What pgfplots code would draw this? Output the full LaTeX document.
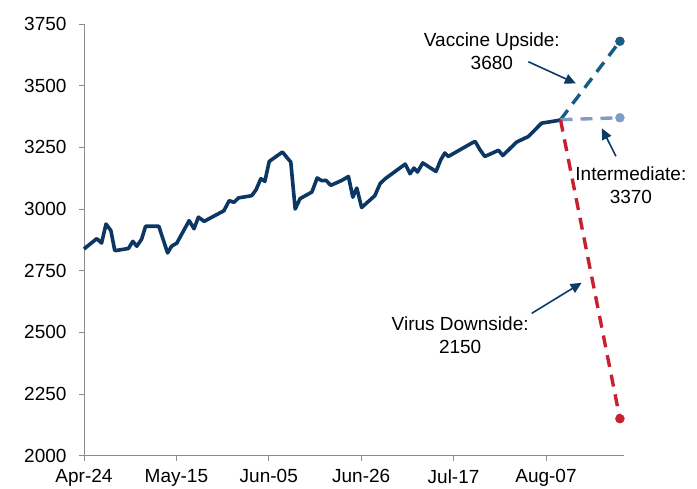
\documentclass[border=0pt]{standalone}
\usepackage{fontspec}
\setmainfont{Liberation Sans}
\usepackage{pgfplots}
\pgfplotsset{compat=1.18}
\usetikzlibrary{arrows.meta}
\definecolor{mainline}{RGB}{12,55,99}
\definecolor{vaccine}{RGB}{22,92,133}
\definecolor{interm}{RGB}{127,156,197}
\definecolor{virus}{RGB}{200,32,46}
\definecolor{arrowc}{RGB}{14,58,102}
\definecolor{axgray}{RGB}{140,140,140}
\begin{document}
\begin{tikzpicture}
\useasboundingbox (0,0) rectangle (697pt,488pt);
\begin{axis}[
  at={(84pt,32.3pt)}, anchor=origin,
  scale only axis, width=540.3pt, height=431.7pt,
  xmin=0, xmax=122.8, ymin=2000, ymax=3750,
  axis x line*=bottom, axis y line*=left,
  axis line style={axgray, line width=0.9pt, -},
  xtick={0,21,42,63,84,105},
  xticklabels={Apr-24,May-15,Jun-05,Jun-26,Jul-17,Aug-07},
  ytick={2000,2250,2500,2750,3000,3250,3500,3750},
  tick align=outside, major tick length=5pt,
  tick style={axgray, line width=0.9pt},
  ticklabel style={font=\fontsize{19}{22}\selectfont, text=black},
  yticklabel style={xshift=-9pt},
  xticklabel style={yshift=-5pt},
  /pgf/number format/assume math mode=true,
  /pgf/number format/1000 sep={},
  clip=false,
]
\addplot[mainline, line width=3.6pt, line join=round] coordinates {
(0,2838) (2.9,2880) (4.0,2862) (5.0,2939) (6.1,2913) (7.0,2831)
(10.1,2840) (11.1,2869) (12.0,2849) (13.1,2878) (14.0,2930) (17.0,2930)
(19.0,2822) (19.9,2849) (21.1,2862) (23.9,2953) (25.0,2920) (26.0,2967)
(27.3,2950) (31.8,2993) (33.0,3034) (34.1,3027) (35.1,3045) (38.1,3054)
(39.1,3078) (40.2,3123) (41.1,3112) (42.1,3193) (45.1,3231) (47.0,3190)
(48.0,3000) (49.1,3042) (51.8,3069) (53.0,3126) (54.0,3115) (55.0,3116)
(56.1,3096) (58.6,3116) (60.1,3132) (61.1,3048) (62.0,3085) (63.1,3006)
(66.1,3054) (67.3,3103) (68.4,3122) (73.0,3182) (74.1,3143) (75.0,3166)
(75.8,3150) (77.0,3187) (80.0,3152) (81.1,3200) (82.0,3227) (82.8,3213)
(88.1,3267) (88.9,3274) (90.0,3240) (91.1,3213) (94.2,3238) (95.2,3217)
(98.3,3271) (101.0,3294) (104.0,3348) (107.8,3359) (108.3,3362)
};
\addplot[vaccine, line width=3.4pt, dash pattern=on 12pt off 8pt] coordinates {(108.3,3362) (121.8,3680)};
\addplot[interm, line width=3.4pt, dash pattern=on 12pt off 8pt] coordinates {(108.3,3362) (121.8,3370)};
\addplot[virus, line width=3.4pt, dash pattern=on 12pt off 8pt] coordinates {(108.3,3362) (121.8,2150)};
\addplot[only marks, mark=*, mark size=4.5pt, vaccine] coordinates {(121.8,3680)};
\addplot[only marks, mark=*, mark size=4.5pt, interm] coordinates {(121.8,3370)};
\addplot[only marks, mark=*, mark size=4.5pt, virus] coordinates {(121.8,2150)};
\node[align=center, font=\fontsize{19}{23}\selectfont] at (axis cs:92.7,3640) {Vaccine Upside:\\3680};
\node[align=center, font=\fontsize{19}{23}\selectfont] at (axis cs:124.3,3095) {Intermediate:\\3370};
\node[align=center, font=\fontsize{19}{23}\selectfont] at (axis cs:85.5,2490) {Virus Downside:\\2150};
\draw[arrowc, line width=1.6pt, -{Triangle[length=11pt,width=10pt]}] (axis cs:101.0,3597) -- (axis cs:111.8,3509);
\draw[arrowc, line width=1.6pt, -{Triangle[length=11pt,width=10pt]}] (axis cs:120.9,3214) -- (axis cs:117.7,3327);
\draw[arrowc, line width=1.6pt, -{Triangle[length=11pt,width=10pt]}] (axis cs:101.75,2577) -- (axis cs:113.1,2701);
\end{axis}
\end{tikzpicture}
\end{document}
